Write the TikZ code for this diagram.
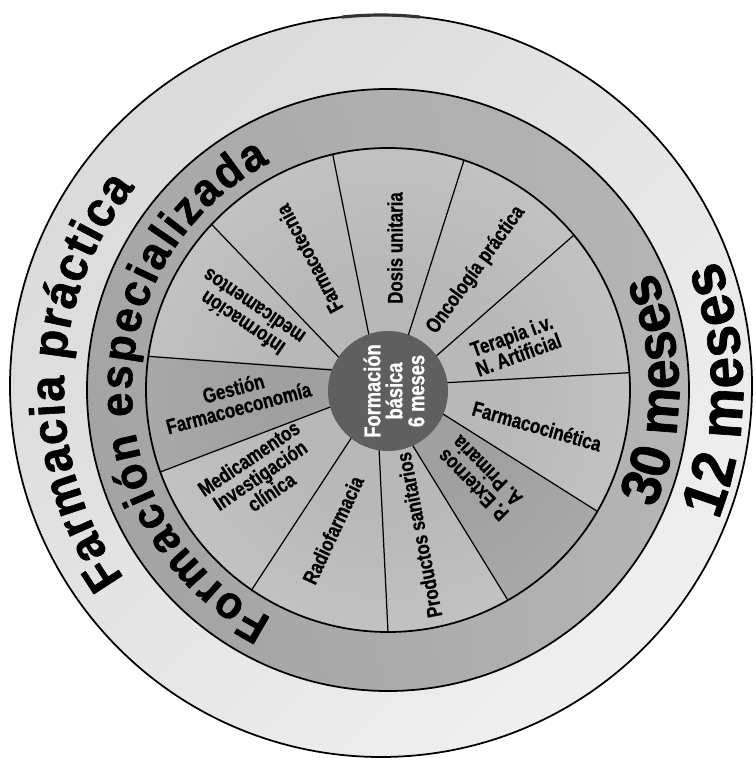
\documentclass[tikz,border=0pt]{standalone}
\usepackage{fontspec}
\usetikzlibrary{decorations.text,shadings}
\newfontfamily\ringfont[FakeStretch=0.95,FakeBold=1.2]{Liberation Sans}
\newfontfamily\labelfont[FakeStretch=0.8,FakeBold=0.8]{Liberation Sans}
\newcommand\practicafont{\ringfont\bfseries\fontsize{28}{28}\selectfont}
\newcommand\bandfont{\ringfont\bfseries\fontsize{26}{26}\selectfont}
\newcommand\treintafont{\ringfont\bfseries\fontsize{32}{32}\selectfont}
\newcommand\docefont{\ringfont\bfseries\fontsize{34}{34}\selectfont}
\definecolor{RingLight}{HTML}{F4F4F4}
\definecolor{RingDark}{HTML}{D6D6D6}
\definecolor{BandLight}{HTML}{B5B5B5}
\definecolor{BandDark}{HTML}{A0A0A0}
\definecolor{SectorInner}{HTML}{B8B8B8}
\definecolor{SectorOuter}{HTML}{D3D3D3}
\definecolor{CoreGrey}{HTML}{5F5F5F}
\pgfdeclareradialshading{sectorshade}{\pgfpoint{0bp}{0bp}}{color(0bp)=(SectorInner); color(12bp)=(SectorInner); color(50bp)=(SectorOuter)}
\tikzset{
  rim/.style={line width=1pt},
  spoke/.style={line width=0.7pt},
  sectorlabel/.style={font=\labelfont\bfseries\fontsize{12}{11.5}\selectfont,align=center,inner sep=0pt},
  darksector/.style={fill=black,opacity=0.13}
}

\begin{document}
\begin{tikzpicture}[x=0.02cm,y=0.02cm,line cap=round,line join=round]
  \useasboundingbox (-388,-368) rectangle (367,390);
  \coordinate (O) at (0,0);
  \coordinate (R) at (-7,4);

  \shade[upper left=RingDark,lower right=RingLight,upper right=RingLight!50!RingDark,lower left=RingLight!50!RingDark] (R) circle[radius=371];
  \draw[rim] (R) circle[radius=371];
  \draw[line width=1.8pt,black!80] (R) ++(96:371) arc[start angle=96,end angle=84,radius=371];
  \shade[upper left=BandDark!60!BandLight,lower left=BandDark,upper right=BandLight,lower right=BandLight] (O) circle[radius=301];
  \draw[rim] (O) circle[radius=301];
  \shade[shading=sectorshade] (O) circle[radius=242];
  \fill[darksector] (-164:60) -- (-160.2:242) arc[start angle=199.8,end angle=172,radius=242] -- (159:60) -- cycle;
  \fill[darksector] (-22.8:60) -- (-30.1:242) arc[start angle=-30.1,end angle=-60.3,radius=242] -- (-66.8:60) -- cycle;
  \draw[rim] (O) circle[radius=242];
  \foreach \a/\b in {109.6/103.2,69.5/71.7,34.7/39.8,7.4/4.1,-22.8/-30.1,-66.8/-60.3,-99.6/-90,-127.8/-124.3,-164/-160.2,159/172,147.3/136.8}
    \draw[spoke] (\a:55) -- (\b:242);
  \fill[CoreGrey] (0,-1) circle[radius=60];

  \node[font=\labelfont\bfseries\fontsize{13}{12.5}\selectfont,text=white,rotate=90,align=center,inner sep=0pt] (basica) at (6,-1) {Formación\\básica\\6 meses};
  \node[sectorlabel,rotate=118] (tecnia) at (121:153) {Farmacotecnia};
  \node[sectorlabel,rotate=90] (dosis) at (7,142) {Dosis unitaria};
  \node[sectorlabel,rotate=54] (onco) at (88,120) {Oncología práctica};
  \node[sectorlabel,rotate=20] (terapia) at (127,45) {Terapia i.v.\\N. Artificial};
  \node[sectorlabel,rotate=-16] (cinetica) at (149,-36) {Farmacocinética};
  \node[sectorlabel,rotate=135] (externos) at (92,-88) {P. Externos\\A. Primaria};
  \node[sectorlabel,rotate=101] (productos) at (31,-145) {Productos sanitarios};
  \node[sectorlabel,rotate=65] (radio) at (-55,-140) {Radiofarmacia};
  \node[sectorlabel,rotate=34] (investig) at (-128,-85) {Medicamentos\\Investigación\\clínica};
  \node[sectorlabel,rotate=15] (gestion) at (-152,-8) {Gestión\\Farmacoeconomía};
  \node[sectorlabel,rotate=146] (informa) at (-140,75) {Información\\medicamentos};

  \path[decorate,decoration={text along path,text={|\bandfont|Formación especializada},text align={fit to path}}]
    (243:256) arc[start angle=243,end angle=117.5,radius=256];
  \path[decorate,decoration={text along path,text={|\treintafont|30 meses},text align={fit to path}}]
    (-24:291) arc[start angle=-24,end angle=24,radius=291];
  \path[decorate,decoration={text along path,text={|\practicafont|Farmacia práctica},text align={fit to path}}]
    (215.5:324) arc[start angle=215.5,end angle=141.3,radius=324];
  \path[decorate,decoration={text along path,text={|\docefont|12 meses},text align={fit to path}}]
    (-21.5:355) arc[start angle=-21.5,end angle=21.5,radius=355];
\end{tikzpicture}
\end{document}
